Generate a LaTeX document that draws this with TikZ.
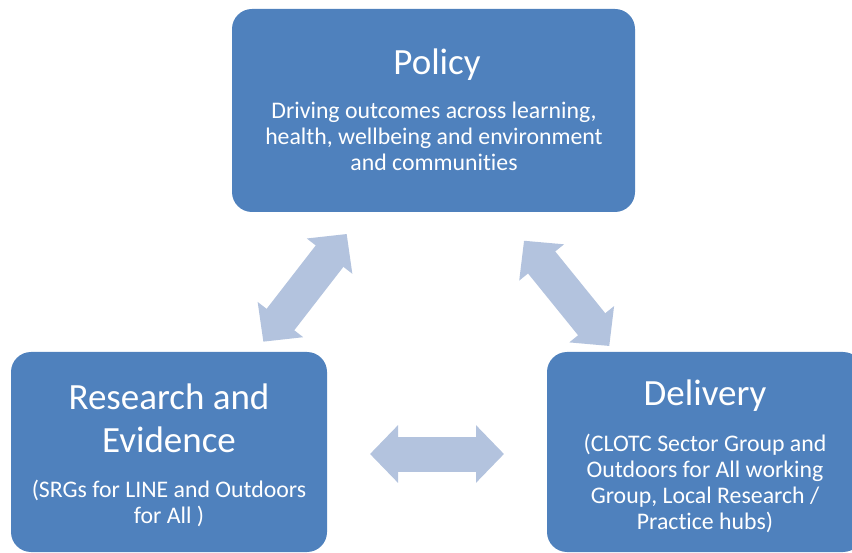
\documentclass[tikz,border=0pt]{standalone}
\usepackage{fontspec}
\setmainfont{Carlito}[Ligatures={NoCommon,NoContextual}]
\usetikzlibrary{arrows.meta}
\definecolor{boxblue}{HTML}{4F81BD}
\definecolor{arrowblue}{HTML}{B3C3DE}
\tikzset{
  box/.style={fill=boxblue, rounded corners=20pt, inner sep=0pt},
  title/.style={text=white, font=\fontsize{37}{43}\selectfont, align=center, inner sep=0pt, anchor=base},
  body/.style={text=white, font=\fontsize{23.8}{26}\selectfont, align=center, inner sep=0pt, anchor=base},
  blockarrow/.style={draw=arrowblue, line width=35pt,
    {Triangle[length=28pt,width=56pt]}-{Triangle[length=28pt,width=56pt]}}
}
\begin{document}
\begin{tikzpicture}[x=1pt,y=-1pt]
\useasboundingbox (0,0) rectangle (852,553);
\begin{scope}
\clip (0,0) rectangle (852,553);
\node[box, minimum width=403pt, minimum height=203pt] (policy) at (433.5,110.5) {};
\node[box, minimum width=316pt, minimum height=200pt] (research) at (169,452) {};
\node[box, minimum width=316pt, minimum height=200pt] (delivery) at (705,452) {};
\end{scope}

% base anchor of a multi-line node = baseline of its last line
\node[title] (policyt) at (437,75) {Policy};
\node[body] (policyb) at (434,171) {Driving outcomes across learning,\\health, wellbeing and environment\\and communities};

\node[title] (researcht) at (169,452) {Research and\\Evidence};
\node[body] (researchb) at (169,523) {(SRGs for LINE and Outdoors\\for All )};

\node[title] (deliveryt) at (705,406) {Delivery};
\node[body] (deliveryb) at (705,529) {(CLOTC Sector Group and\\Outdoors for All working\\Group, Local Research /\\Practice hubs)};

\coordinate (a1) at (263.3,341.7);
\coordinate (a2) at (346.7,234);
\coordinate (b1) at (524,240.7);
\coordinate (b2) at (609.3,346);
\coordinate (c1) at (370,454);
\coordinate (c2) at (504,454);
\draw[blockarrow] (a1) -- (a2);
\draw[blockarrow] (b1) -- (b2);
\draw[blockarrow] (c1) -- (c2);
\end{tikzpicture}
\end{document}
